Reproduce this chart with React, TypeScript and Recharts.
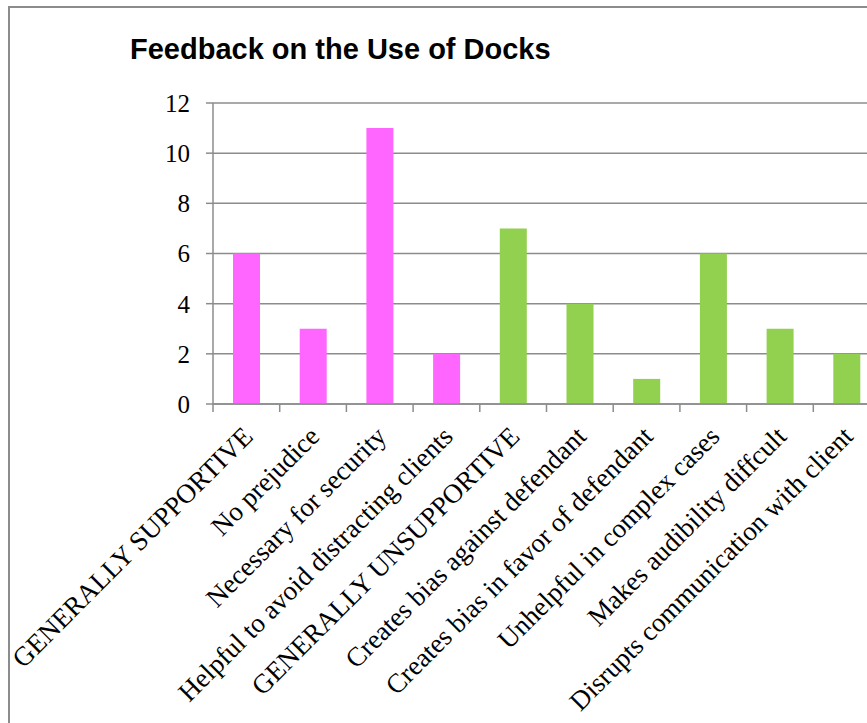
import { BarChart, Bar, XAxis, YAxis, CartesianGrid, Cell } from 'recharts';

const categories = [
  'GENERALLY SUPPORTIVE',
  'No prejudice',
  'Necessary for security',
  'Helpful to avoid distracting clients',
  'GENERALLY UNSUPPORTIVE',
  'Creates bias against defendant',
  'Creates bias in favor of defendant',
  'Unhelpful in complex cases',
  'Makes audibility diffcult',
  'Disrupts communication with client',
];
const responses = [6, 3, 11, 2, 7, 4, 1, 6, 3, 2];
const groups = ['support', 'support', 'support', 'support', 'oppose', 'oppose', 'oppose', 'oppose', 'oppose', 'oppose'];
const yTicks = [0, 2, 4, 6, 8, 10, 12];

const groupColors: Record<string, string> = { support: '#FF66FF', oppose: '#92D050' };
const data = categories.map((name, i) => ({ name, value: responses[i], group: groups[i] }));

const CHART_W = 880;
const CHART_H = 715;
const MARGIN = { top: 95, right: 10, bottom: 19, left: 143 };
const Y_AXIS_W = 60;
const PLOT_W = CHART_W - MARGIN.left - Y_AXIS_W - MARGIN.right;
const BAND = PLOT_W / categories.length;
const LINE = '#8c8c8c';
const SERIF = '"Liberation Serif", "Times New Roman", serif';

// rotated category label plus a tick mark on the left edge of each band
const CategoryTick = (props: any) => {
  const { x, y, payload, index } = props;
  const left = x - BAND / 2;
  const ax = x + 8;
  const ay = y + 34;
  return (
    <g>
      <line x1={left} y1={y} x2={left} y2={y + 8} stroke={LINE} strokeWidth={1.5} />
      {index === categories.length - 1 && (
        <line x1={x + BAND / 2} y1={y} x2={x + BAND / 2} y2={y + 8} stroke={LINE} strokeWidth={1.5} />
      )}
      <text
        x={ax}
        y={ay}
        transform={`rotate(-45, ${ax}, ${ay})`}
        textAnchor="end"
        fontFamily={SERIF}
        fontSize={27}
        fill="#000"
      >
        {payload.value}
      </text>
    </g>
  );
};

export default function App() {
  return (
    <div
      style={{
        position: 'absolute',
        left: 8,
        top: 6,
        width: 900,
        height: 740,
        border: `2px solid ${LINE}`,
        background: '#fff',
      }}
    >
      <div
        style={{
          position: 'absolute',
          left: 120,
          top: 27,
          fontFamily: '"Liberation Sans", Arial, sans-serif',
          fontWeight: 'bold',
          fontSize: 29,
          lineHeight: '29px',
          color: '#000',
          whiteSpace: 'nowrap',
        }}
      >
        Feedback on the Use of Docks
      </div>
      <BarChart width={CHART_W} height={CHART_H} data={data} margin={MARGIN} barSize={27}>
        <CartesianGrid vertical={false} stroke={LINE} strokeWidth={1.5} />
        <XAxis
          dataKey="name"
          interval={0}
          height={300}
          axisLine={{ stroke: LINE, strokeWidth: 1.5 }}
          tickLine={false}
          tickSize={0}
          tickMargin={0}
          tick={<CategoryTick />}
        />
        <YAxis
          width={Y_AXIS_W}
          domain={[0, 12]}
          ticks={yTicks}
          interval={0}
          axisLine={{ stroke: LINE, strokeWidth: 1.5 }}
          tickLine={{ stroke: LINE, strokeWidth: 1.5 }}
          tickSize={7}
          tickMargin={16}
          tick={{ fontFamily: SERIF, fontSize: 25, fill: '#000' }}
        />
        <Bar dataKey="value" isAnimationActive={false}>
          {data.map((d, i) => (
            <Cell key={`cell-${i}`} fill={groupColors[d.group]} />
          ))}
        </Bar>
      </BarChart>
    </div>
  );
}
